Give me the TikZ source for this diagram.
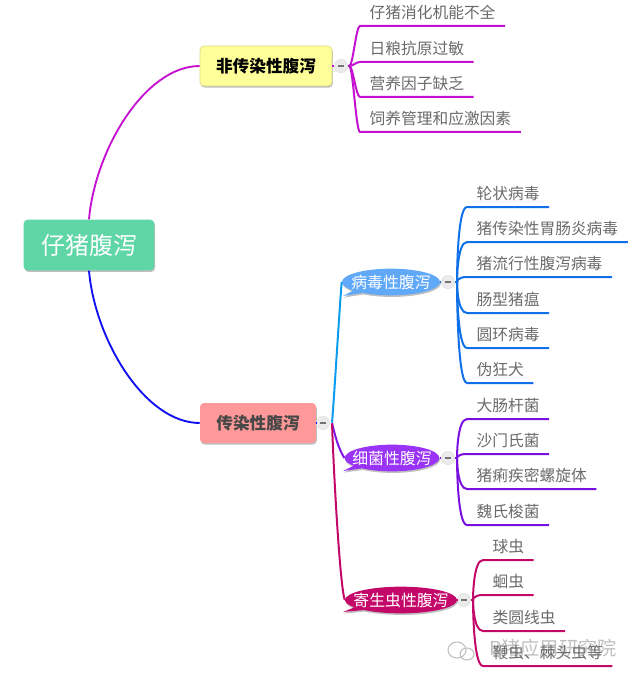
\documentclass[tikz,border=0pt]{standalone}
\usepackage{fontspec}
\setmainfont{Noto Sans CJK SC}
\usetikzlibrary{shapes.callouts,shadows,calc}
\definecolor{cRoot}{HTML}{5FD6A6}
\definecolor{cYel}{HTML}{FFFF99}
\definecolor{cYelB}{HTML}{D9D98C}
\definecolor{cPink}{HTML}{FF9999}
\definecolor{cMag}{HTML}{C410D0}
\definecolor{cBlu}{HTML}{1070E8}
\definecolor{cDeep}{HTML}{1010F0}
\definecolor{cVir}{HTML}{60A8F8}
\definecolor{cPur}{HTML}{7A10E0}
\definecolor{cBac}{HTML}{9933F5}
\definecolor{cCri}{HTML}{C4086A}
\definecolor{cTxt}{HTML}{6A6A6A}
\tikzset{
 softshadow/.style={drop shadow={shadow xshift=0.6pt,shadow yshift=-1.2pt,opacity=.25,fill=black}},
 topic/.style={rectangle,rounded corners=3pt,minimum height=30pt,softshadow,inner sep=0pt,font=\fontsize{12.5pt}{14pt}\selectfont\bfseries},
 rootbox/.style={rectangle,rounded corners=3pt,fill=cRoot,minimum width=98pt,minimum height=38pt,softshadow,text=white,inner sep=0pt,font=\fontsize{18pt}{20pt}\selectfont},
 bubble/.style={ellipse callout,softshadow,text=white,inner xsep=-6pt,inner ysep=-5pt,minimum height=20pt,font=\fontsize{11.9pt}{13pt}\selectfont},
 leaf/.style={anchor=south west,inner xsep=7pt,inner ysep=4.5pt,text=cTxt,font=\fontsize{11.8pt}{13pt}\selectfont},
 toggle/.style={circle,draw=black!12,fill=black!8,minimum size=10pt,inner sep=0pt},
 hub/.style={circle,inner sep=0pt,minimum size=0pt},
 mainline/.style={line width=1.4pt},
 sub/.style={line width=1.5pt},
 stub/.style={line width=1pt,dash pattern=on 1.5pt off 1.5pt},
}
\newcommand{\minus}[1]{\draw[black!55,line width=.8pt] ($(#1)+(-2.5pt,0)$) -- ($(#1)+(2.5pt,0)$);}
\begin{document}
\begin{tikzpicture}[x=0.75pt,y=-0.75pt]
\useasboundingbox (0,0) rectangle (640,681);
% watermark
\begin{scope}[black!25,line width=.8pt]
 \draw (457,650) ellipse (9 and 8);
 \draw (467,654) ellipse (7 and 6);
\end{scope}
\node[text=black!25,inner sep=0pt,font=\fontsize{14.4pt}{16pt}\selectfont] (wm) at (553,648) {R猪应用研究院};

% main nodes
\node[rootbox] (root) at (89,245) {仔猪腹泻};
\node[topic,fill=cYel,draw=cYelB,line width=.5pt,minimum width=99pt] (nonin) at (266,66) {非传染性腹泻};
\node[topic,fill=cPink,text=black!72,minimum width=87pt] (inf) at (258,423) {传染性腹泻};
\draw[mainline,cMag] (root.north) .. controls (95,150) and (145,66) .. (nonin.west);
\draw[mainline,cDeep] (root.south) .. controls (95,340) and (145,423) .. (inf.west);

% toggles & hubs
\node[toggle] (t1) at (341,66) {};
\node[hub] (h1) at (349,66) {};
\node[toggle] (t2) at (323,423) {};
\node[hub] (h2) at (332,423) {};
\node[toggle] (t3) at (448,282) {};
\node[hub] (h3) at (457,282) {};
\node[toggle] (t4) at (448,458) {};
\node[hub] (h4) at (457,458) {};
\node[toggle] (t5) at (464,600) {};
\node[hub] (h5) at (473,600) {};

% bubbles
\node[bubble,fill=cVir,minimum width=73.5pt,callout absolute pointer={(343,296)}] (vir) at (391,282) {病毒性腹泻};
\node[bubble,fill=cBac,minimum width=71pt,callout absolute pointer={(343,471)}] (bac) at (392,458) {细菌性腹泻};
\node[bubble,fill=cCri,minimum width=84pt,callout absolute pointer={(343,612)}] (par) at (401,600) {寄生虫性腹泻};

% stubs
\draw[stub,cMag] (nonin.east) -- (t1.west);
\draw[stub,cDeep] (inf.east) -- (t2.west);
\draw[stub,cBlu] (vir.east) -- (t3.west);
\draw[stub,cPur] (bac.east) -- (t4.west);
\draw[stub,cCri] (par.east) -- (t5.west);
\minus{t1}\minus{t2}\minus{t3}\minus{t4}\minus{t5}
\draw[cMag,line width=1pt] (t1.east) -- (h1);
\draw[cBlu,line width=1pt] (t3.east) -- (h3);
\draw[cPur,line width=1pt] (t4.east) -- (h4);
\draw[cCri,line width=1pt] (t5.east) -- (h5);

% second-level connectors
\draw[sub,cBlu!70!cyan] (h2) .. controls (334,400) and (340,300) .. (vir.180);
\draw[sub,cPur!80!cBac] (h2) .. controls (335,435) and (338,448) .. (bac.180);
\draw[sub,cCri] (h2) .. controls (334,480) and (340,585) .. (par.180);

% leaves: group 1
\foreach \n/\y/\t in {a1/26/仔猪消化机能不全,a2/62/日粮抗原过敏,a3/97/营养因子缺乏,a4/132/饲养管理和应激因素}{
 \node[leaf] (\n) at (360,\y) {\t};
 \draw[sub,cMag] (h1) .. controls ($(h1)+(4,0)$) and ($(\n.south west)+(-4,0)$) .. (\n.south west) -- (\n.south east);
}
% group 2
\foreach \n/\y/\t in {b1/207/轮状病毒,b2/242/猪传染性胃肠炎病毒,b3/277/猪流行性腹泻病毒,b4/313/肠型猪瘟,b5/348/圆环病毒,b6/383/伪狂犬}{
 \node[leaf] (\n) at (467,\y) {\t};
 \draw[sub,cBlu] (h3) .. controls ($(h3)+(0,0)$) and ($(\n.south west)+(-10,0)$) .. (\n.south west) -- (\n.south east);
}
% group 3
\foreach \n/\y/\t in {c1/419/大肠杆菌,c2/454/沙门氏菌,c3/489/猪痢疾密螺旋体,c4/525/魏氏梭菌}{
 \node[leaf] (\n) at (467,\y) {\t};
 \draw[sub,cPur] (h4) .. controls ($(h4)+(0,0)$) and ($(\n.south west)+(-10,0)$) .. (\n.south west) -- (\n.south east);
}
% group 4
\foreach \n/\y/\t in {d1/560/球虫,d2/595/蛔虫,d3/631/类圆线虫,d4/666/鞭虫、棘头虫等}{
 \node[leaf] (\n) at (483,\y) {\t};
 \draw[sub,cCri] (h5) .. controls ($(h5)+(0,0)$) and ($(\n.south west)+(-10,0)$) .. (\n.south west) -- (\n.south east);
}
\end{tikzpicture}
\end{document}
